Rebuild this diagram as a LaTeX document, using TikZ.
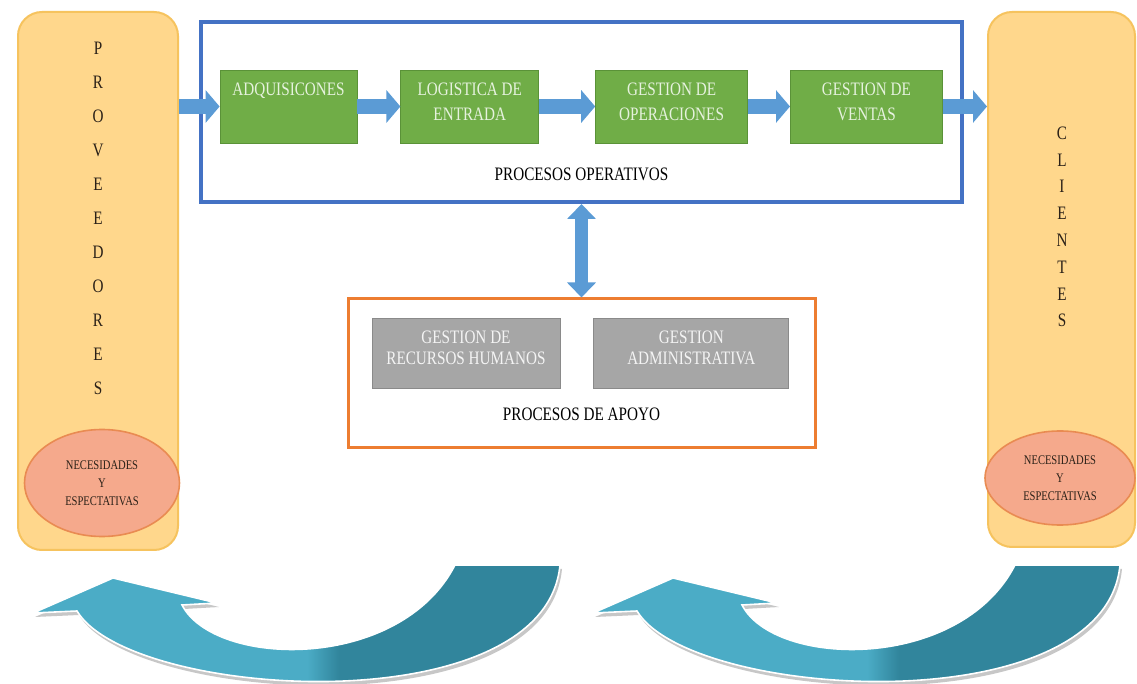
\documentclass[tikz,border=0pt]{standalone}
\usepackage{fontspec}
\setmainfont{Liberation Serif}[FakeStretch=0.8]
\usetikzlibrary{positioning, arrows.meta, shapes.geometric}

\definecolor{sidefill}{HTML}{FFD78C}
\definecolor{sideedge}{HTML}{F6C35E}
\definecolor{needfill}{HTML}{F5A98C}
\definecolor{neededge}{HTML}{E98B52}
\definecolor{opsblue}{HTML}{4472C4}
\definecolor{apoyoorange}{HTML}{ED7D31}
\definecolor{greenfill}{HTML}{70AD47}
\definecolor{greenedge}{HTML}{5A9238}
\definecolor{greentext}{HTML}{E6F2DE}
\definecolor{greyfill}{HTML}{A6A6A6}
\definecolor{greyedge}{HTML}{8A8A8A}
\definecolor{greytext}{HTML}{F4F4F4}
\definecolor{flowblue}{HTML}{5B9BD5}
\definecolor{turnlight}{HTML}{4BACC6}
\definecolor{turndark}{HTML}{31859C}
\definecolor{inktext}{HTML}{2B2118}

\pgfdeclarehorizontalshading{turnshade}{100bp}{color(0bp)=(turnlight); color(51bp)=(turnlight); color(54bp)=(turndark); color(100bp)=(turndark)}

% outline of the curved return arrow (one pixel = one unit)
\newcommand\turnpath{(113,578) -- (217,603) -- (182,605) .. controls (215,668) and (400,672) .. (455,565) -- (560,565) .. controls (545,725) and (130,700) .. (77,611) -- (33,613) -- cycle}

\tikzset{
    sidebox/.style={draw=sideedge, fill=sidefill, line width=1pt, rounded corners=12pt}, % proveedores / clientes
    letters/.style={align=center, text=inktext, inner sep=0pt}, % words written downwards
    need/.style={ellipse, draw=neededge, fill=needfill, line width=0.8pt, align=center, text=inktext, inner sep=1pt, font=\fontsize{6.6}{9}\selectfont},
    frame/.style={draw, inner sep=0pt},
    boxtxt/.style={anchor=north, align=center, inner sep=0pt, yshift=-6.5pt},
    greenbox/.style={draw=greenedge, fill=greenfill, minimum height=36.5pt, inner sep=0pt,
        label={[boxtxt, text=greentext, font=\fontsize{9.5}{12.5}\selectfont]north:{#1}}},
    greybox/.style={draw=greyedge, fill=greyfill, minimum height=35pt, inner sep=0pt,
        label={[boxtxt, text=greytext, font=\fontsize{9.5}{10.5}\selectfont]north:{#1}}},
    title/.style={text=black, font=\fontsize{9.5}{11}\selectfont, inner sep=0pt},
    flow/.style={draw=flowblue, line width=7.5pt, -{Triangle[width=16pt, length=7pt]}}, % block arrows
    updown/.style={draw=flowblue, line width=6.5pt, {Triangle[width=14pt, length=7.5pt]}-{Triangle[width=14pt, length=7.5pt]}},
}

\begin{document}
\begin{tikzpicture}[x=0.5pt, y=-0.5pt]
    \fill[white] (0,0) rectangle (1137,684);
    \useasboundingbox (0,0) rectangle (1137,684);

    \foreach \dx in {0,560}{
        \begin{scope}[shift={(\dx,0)}]
            \fill[black!22, shift={(2,4)}] \turnpath;
            \shadedraw[shading=turnshade, draw=white, line width=0.8pt] \turnpath;
        \end{scope}
    }

    \node[sidebox, minimum width=80pt, minimum height=269pt] (prov) at (98,281) {};
    \node[sidebox, minimum width=73.5pt, minimum height=267.5pt] (cli) at (1061.5,279.5) {};
    \node[letters, font=\fontsize{9.5}{17}\selectfont] (provtxt) at (98,218) {P\\R\\O\\V\\E\\E\\D\\O\\R\\E\\S};
    \node[letters, font=\fontsize{9.5}{13.4}\selectfont] (clitxt) at (1062,227) {C\\L\\I\\E\\N\\T\\E\\S};
    \node[need, minimum width=77.5pt, minimum height=53.5pt] (provneed) at (102,483) {NECESIDADES\\Y\\ESPECTATIVAS};
    \node[need, minimum width=75pt, minimum height=47pt] (clineed) at (1060,478) {NECESIDADES\\Y\\ESPECTATIVAS};

    \node[frame, draw=opsblue, line width=2pt, minimum width=380.5pt, minimum height=90pt] (ops) at (581.5,112) {};
    \node[frame, draw=apoyoorange, line width=1.5pt, minimum width=233.5pt, minimum height=74.5pt] (apoyo) at (581.5,373.5) {};

    \node[greenbox={ADQUISICONES}, minimum width=68.5pt] (adq) at (288.5,106.5) {};
    \node[greenbox={LOGISTICA DE\\ENTRADA}, minimum width=69pt, right=21.5pt of adq] (log) {};
    \node[greenbox={GESTION DE\\OPERACIONES}, minimum width=76pt, right=28pt of log] (opr) {};
    \node[greenbox={GESTION DE\\VENTAS}, minimum width=76pt, right=21pt of opr] (ven) {};

    \node[greybox={GESTION DE\\RECURSOS HUMANOS}, minimum width=94pt] (rrhh) at (466,353) {};
    \node[greybox={GESTION\\ADMINISTRATIVA}, minimum width=97.5pt, right=16.5pt of rrhh] (adm) {};

    \node[title] (opstitle) at ([yshift=15pt]ops.south) {PROCESOS OPERATIVOS};
    \node[title] (apoyotitle) at ([yshift=17.5pt]apoyo.south) {PROCESOS DE APOYO};

    \draw[flow] (prov.east |- adq.west) -- (adq.west);
    \draw[flow] (adq.east) -- (log.west);
    \draw[flow] (log.east) -- (opr.west);
    \draw[flow] (opr.east) -- (ven.west);
    \draw[flow] (ven.east) -- (ven.east -| cli.west);
    \draw[updown] (ops.south) -- (apoyo.north);
\end{tikzpicture}
\end{document}
